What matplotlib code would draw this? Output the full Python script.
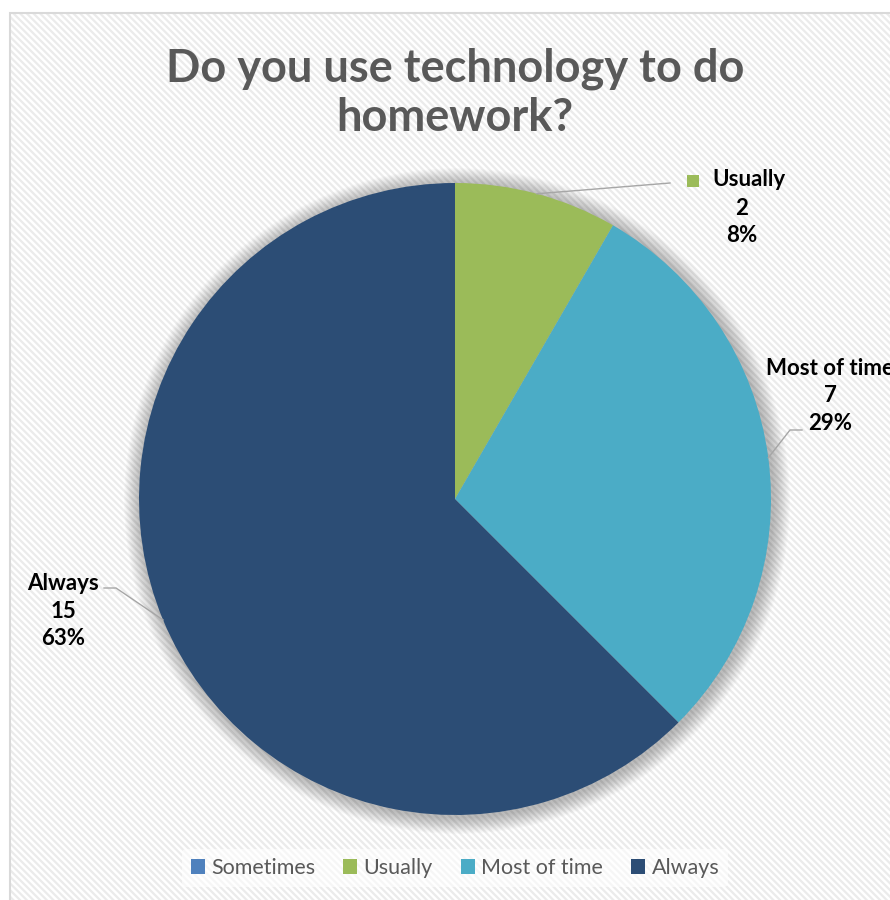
import matplotlib
matplotlib.use("Agg")
import matplotlib.pyplot as plt
from matplotlib.patches import Rectangle, Circle
import numpy as np

categories = ["Sometimes", "Usually", "Most of time", "Always"]
counts = [0, 2, 7, 15]
colors = ["#4F81BD", "#9BBB59", "#4BACC6", "#2C4D75"]
title = "Do you use technology to do\nhomework?"

plt.rcParams['font.family'] = ['Lato', 'DejaVu Sans']
plt.rcParams['hatch.linewidth'] = 1.6

W, H = 890, 900
fig = plt.figure(figsize=(W / 100, H / 100), dpi=100)
ax = fig.add_axes([0, 0, 1, 1])

def P(x, y):
    return x, H - y

def pct(v):
    return int(100 * v / sum(counts) + 0.5)

cx, cy = P(455, 499)
R = 316

wedges, _ = ax.pie(counts, colors=colors, startangle=90, counterclock=False,
                   center=(cx, cy), radius=R, frame=True,
                   wedgeprops=dict(linewidth=0))
ax.set_xlim(0, W)
ax.set_ylim(0, H)
ax.set_aspect('equal')
ax.axis('off')
for w in wedges:
    w.set_zorder(2)

# background with diagonal stripes
ax.add_patch(Rectangle(P(10, 905), 900, 892, facecolor='white', edgecolor='none', zorder=0))
ax.add_patch(Rectangle(P(10, 905), 900, 892, facecolor='none', edgecolor='#ebebeb',
                       hatch='\\\\\\\\\\', linewidth=0, zorder=0.5))
ax.add_patch(Rectangle(P(10, 905), 900, 892, facecolor='none', edgecolor='#d9d9d9',
                       linewidth=1.5, zorder=5))

# soft shadow
for k in range(14, 0, -1):
    ax.add_patch(Circle((cx + 2, cy - 2), R + k * 1.2, facecolor='#000000',
                        alpha=0.018, edgecolor='none', zorder=1))

total = sum(counts)
lab_fs = 16
def mid_angle(i):
    start = 90 - 360 * sum(counts[:i]) / total
    return np.deg2rad(start - 180 * counts[i] / total)

# Usually
a = mid_angle(1)
ex, ey = cx + R * np.cos(a), cy + R * np.sin(a)
ax.plot([ex, 670], [ey, P(0, 183)[1]], color='#a6a6a6', lw=1, zorder=3)
ax.add_patch(Rectangle(P(687, 187), 12, 12, facecolor=colors[1], edgecolor='none', zorder=3))
ax.text(*P(749, 179), categories[1], ha='center', va='center', fontsize=lab_fs,
        fontweight='bold', color='black', zorder=4)
ax.text(*P(742, 222), f"{counts[1]}\n{pct(counts[1])}%", ha='center',
        va='center', fontsize=lab_fs, fontweight='bold', color='black',
        linespacing=1.4, zorder=4)

# Most of time
a = mid_angle(2)
ex, ey = cx + R * np.cos(a), cy + R * np.sin(a)
ax.plot([ex, 790, 802], [ey, P(0, 430)[1], P(0, 430)[1]], color='#a6a6a6', lw=1, zorder=3)
ax.text(*P(830, 396), f"{categories[2]}\n{counts[2]}\n{pct(counts[2])}%",
        ha='center', va='center', fontsize=lab_fs, fontweight='bold', color='black',
        linespacing=1.4, zorder=4)

# Always
a = mid_angle(3)
ex, ey = cx + R * np.cos(a), cy + R * np.sin(a)
ax.plot([ex, 116, 104], [ey, P(0, 588)[1], P(0, 588)[1]], color='#a6a6a6', lw=1, zorder=3)
ax.text(*P(63, 611), f"{categories[3]}\n{counts[3]}\n{pct(counts[3])}%",
        ha='center', va='center', fontsize=lab_fs, fontweight='bold', color='black',
        linespacing=1.4, zorder=4)

# title
ax.text(*P(455, 93), title, ha='center', va='center', fontsize=32.5,
        fontweight='bold', color='#595959', linespacing=1.22, zorder=4)

# legend
leg = ax.legend(wedges, categories, loc='center', bbox_to_anchor=(455 / W, 1 - 868 / H),
                ncol=4, frameon=True, fontsize=15.5, handlelength=0.65, handleheight=0.65,
                handletextpad=0.3, columnspacing=1.3, borderpad=0.4)
leg.get_frame().set_facecolor('white')
leg.get_frame().set_alpha(0.6)
leg.get_frame().set_edgecolor('none')
for t in leg.get_texts():
    t.set_color('#595959')
leg.set_zorder(6)

fig.savefig("out.png", dpi=100)
